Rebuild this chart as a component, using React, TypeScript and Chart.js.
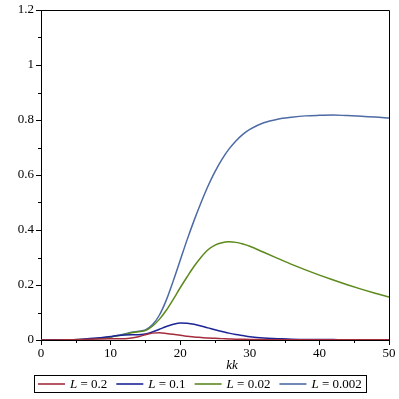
import React, { useEffect, useRef } from "react";
import { Chart, registerables } from "chart.js";

Chart.register(...registerables);

const xs = [0, 2, 4, 6, 8, 10, 11, 12, 13, 14, 15, 16, 17, 18, 19, 20, 21, 22, 23, 24, 25, 26, 27, 28, 29, 30, 32, 34, 36, 38, 40, 42, 44, 46, 48, 50];

const seriesL02 = [0, 0, 0.001, 0.002, 0.004, 0.005, 0.005, 0.005, 0.007, 0.012, 0.019, 0.025, 0.026, 0.024, 0.021, 0.017, 0.014, 0.011, 0.009, 0.007, 0.006, 0.005, 0.004, 0.003, 0.0025, 0.002, 0.0015, 0.001, 0.001, 0.001, 0.001, 0.001, 0.001, 0.001, 0.001, 0.001];
const seriesL01 = [0, 0, 0.001, 0.003, 0.007, 0.013, 0.016, 0.018, 0.019, 0.019, 0.022, 0.029, 0.039, 0.049, 0.057, 0.062, 0.061, 0.057, 0.051, 0.044, 0.037, 0.031, 0.025, 0.02, 0.016, 0.012, 0.007, 0.005, 0.003, 0.002, 0.002, 0.0015, 0.001, 0.001, 0.001, 0.001];
const seriesL002 = [0, 0, 0.001, 0.002, 0.005, 0.011, 0.015, 0.02, 0.026, 0.03, 0.034, 0.05, 0.075, 0.108, 0.148, 0.19, 0.23, 0.268, 0.301, 0.328, 0.345, 0.354, 0.357, 0.355, 0.349, 0.341, 0.319, 0.297, 0.275, 0.255, 0.236, 0.218, 0.201, 0.185, 0.17, 0.156];
const seriesL0002 = [0, 0, 0.001, 0.002, 0.005, 0.011, 0.016, 0.022, 0.028, 0.032, 0.037, 0.055, 0.09, 0.145, 0.215, 0.29, 0.365, 0.435, 0.5, 0.56, 0.612, 0.657, 0.694, 0.724, 0.748, 0.766, 0.79, 0.803, 0.81, 0.815, 0.817, 0.818, 0.816, 0.814, 0.811, 0.807];

const legendValues = ["0.2", "0.1", "0.02", "0.002"];
const colors = ["#a42c3c", "#1c2596", "#5c8a1c", "#4d6aa5"];
const seriesList = [seriesL02, seriesL01, seriesL002, seriesL0002];

const xTickLabels = ["0", "10", "20", "30", "40", "50"];
const yTickLabels = ["0", "0.2", "0.4", "0.6", "0.8", "1", "1.2"];
const xMinorTicks = [5, 15, 25, 35, 45];
const yMinorTicks = [0.1, 0.3, 0.5, 0.7, 0.9, 1.1];
const xTitle = "kk";

const FONT = "Liberation Serif, Times New Roman, DejaVu Serif, serif";

const extrasPlugin = {
  id: "extras",
  afterDraw(chart: any) {
    const ctx = chart.ctx;
    const { left, right, top, bottom } = chart.chartArea;
    const xs_ = chart.scales.x;
    const ys_ = chart.scales.y;
    ctx.save();
    ctx.strokeStyle = "#000";
    ctx.lineWidth = 1;
    ctx.beginPath();
    ctx.moveTo(Math.round(left) + 0.5, Math.round(top) + 0.5);
    ctx.lineTo(Math.round(right) + 0.5, Math.round(top) + 0.5);
    ctx.lineTo(Math.round(right) + 0.5, Math.round(bottom) + 0.5);
    ctx.stroke();
    ctx.beginPath();
    for (const v of xMinorTicks) {
      const px = Math.round(xs_.getPixelForValue(v)) + 0.5;
      ctx.moveTo(px, bottom);
      ctx.lineTo(px, bottom + 3);
    }
    for (const v of yMinorTicks) {
      const py = Math.round(ys_.getPixelForValue(v)) + 0.5;
      ctx.moveTo(left, py);
      ctx.lineTo(left - 3, py);
    }
    ctx.stroke();
    ctx.fillStyle = "#000";
    ctx.font = `italic 13px ${FONT}`;
    ctx.textAlign = "center";
    ctx.textBaseline = "middle";
    ctx.fillText(xTitle, (left + right) / 2 + 17, 366);
    const lineLen = 27;
    const gap = 5;
    const itemGap = 9;
    const pad = 4;
    const italic = `italic 13px ${FONT}`;
    const normal = `13px ${FONT}`;
    const items = chart.data.datasets.map((ds: any, i: number) => {
      ctx.font = italic;
      const wL = ctx.measureText("L").width;
      ctx.font = normal;
      const rest = " = " + legendValues[i];
      const wR = ctx.measureText(rest).width;
      return { color: ds.borderColor, rest, wL, wR };
    });
    let total = pad * 2;
    items.forEach((it: any, i: number) => {
      total += lineLen + gap + it.wL + it.wR + (i < items.length - 1 ? itemGap : 0);
    });
    const cx = 199.5;
    const boxLeft = Math.round(cx - total / 2);
    const boxTop = 375;
    const boxH = 17;
    ctx.strokeStyle = "#000";
    ctx.lineWidth = 1;
    ctx.strokeRect(boxLeft + 0.5, boxTop + 0.5, Math.round(total), boxH);
    let x = boxLeft + pad;
    const cy = boxTop + boxH / 2 + 0.5;
    ctx.textAlign = "left";
    ctx.textBaseline = "middle";
    items.forEach((it: any) => {
      ctx.strokeStyle = it.color;
      ctx.lineWidth = 1.6;
      ctx.beginPath();
      ctx.moveTo(x, cy);
      ctx.lineTo(x + lineLen, cy);
      ctx.stroke();
      x += lineLen + gap;
      ctx.fillStyle = "#000";
      ctx.font = italic;
      ctx.fillText("L", x, cy + 1);
      x += it.wL;
      ctx.font = normal;
      ctx.fillText(it.rest, x, cy + 1);
      x += it.wR + itemGap;
    });
    ctx.restore();
  },
};

export default function App() {
  const ref = useRef<HTMLCanvasElement | null>(null);
  useEffect(() => {
    document.body.style.margin = "0";
    const canvas = ref.current;
    if (!canvas) return;
    const datasets = seriesList.map((s, i) => ({
      label: "L = " + legendValues[i],
      data: xs.map((x, j) => ({ x, y: s[j] })),
      borderColor: colors[i],
      backgroundColor: colors[i],
      borderWidth: 1.5,
      pointRadius: 0,
      cubicInterpolationMode: "monotone" as const,
      fill: false,
    }));
    const chart = new Chart(canvas, {
      type: "line",
      data: { datasets },
      plugins: [extrasPlugin],
      options: {
        responsive: false,
        animation: false,
        layout: { padding: { left: 0, top: 10, right: 10, bottom: 0 } },
        plugins: { legend: { display: false }, tooltip: { enabled: false } },
        scales: {
          x: {
            type: "linear",
            min: 0,
            max: 50,
            ticks: {
              stepSize: 10,
              color: "#000",
              font: { family: FONT, size: 13 },
              padding: 1,
              maxRotation: 0,
              callback: (_v: any, i: number) => xTickLabels[i],
            },
            grid: { drawOnChartArea: false, drawTicks: true, tickLength: 5, color: "#000" },
            border: { display: true, color: "#000", width: 1 },
            afterFit: (s: any) => {
              s.height = 59;
            },
          },
          y: {
            type: "linear",
            min: 0,
            max: 1.2,
            ticks: {
              stepSize: 0.2,
              color: "#000",
              font: { family: FONT, size: 13 },
              padding: 2,
              callback: (_v: any, i: number) => yTickLabels[i],
            },
            grid: { drawOnChartArea: false, drawTicks: true, tickLength: 5, color: "#000" },
            border: { display: true, color: "#000", width: 1 },
            afterFit: (s: any) => {
              s.width = 41;
            },
          },
        },
      },
    });
    return () => chart.destroy();
  }, []);
  return <canvas ref={ref} width={399} height={399} style={{ display: "block", width: 399, height: 399 }} />;
}
